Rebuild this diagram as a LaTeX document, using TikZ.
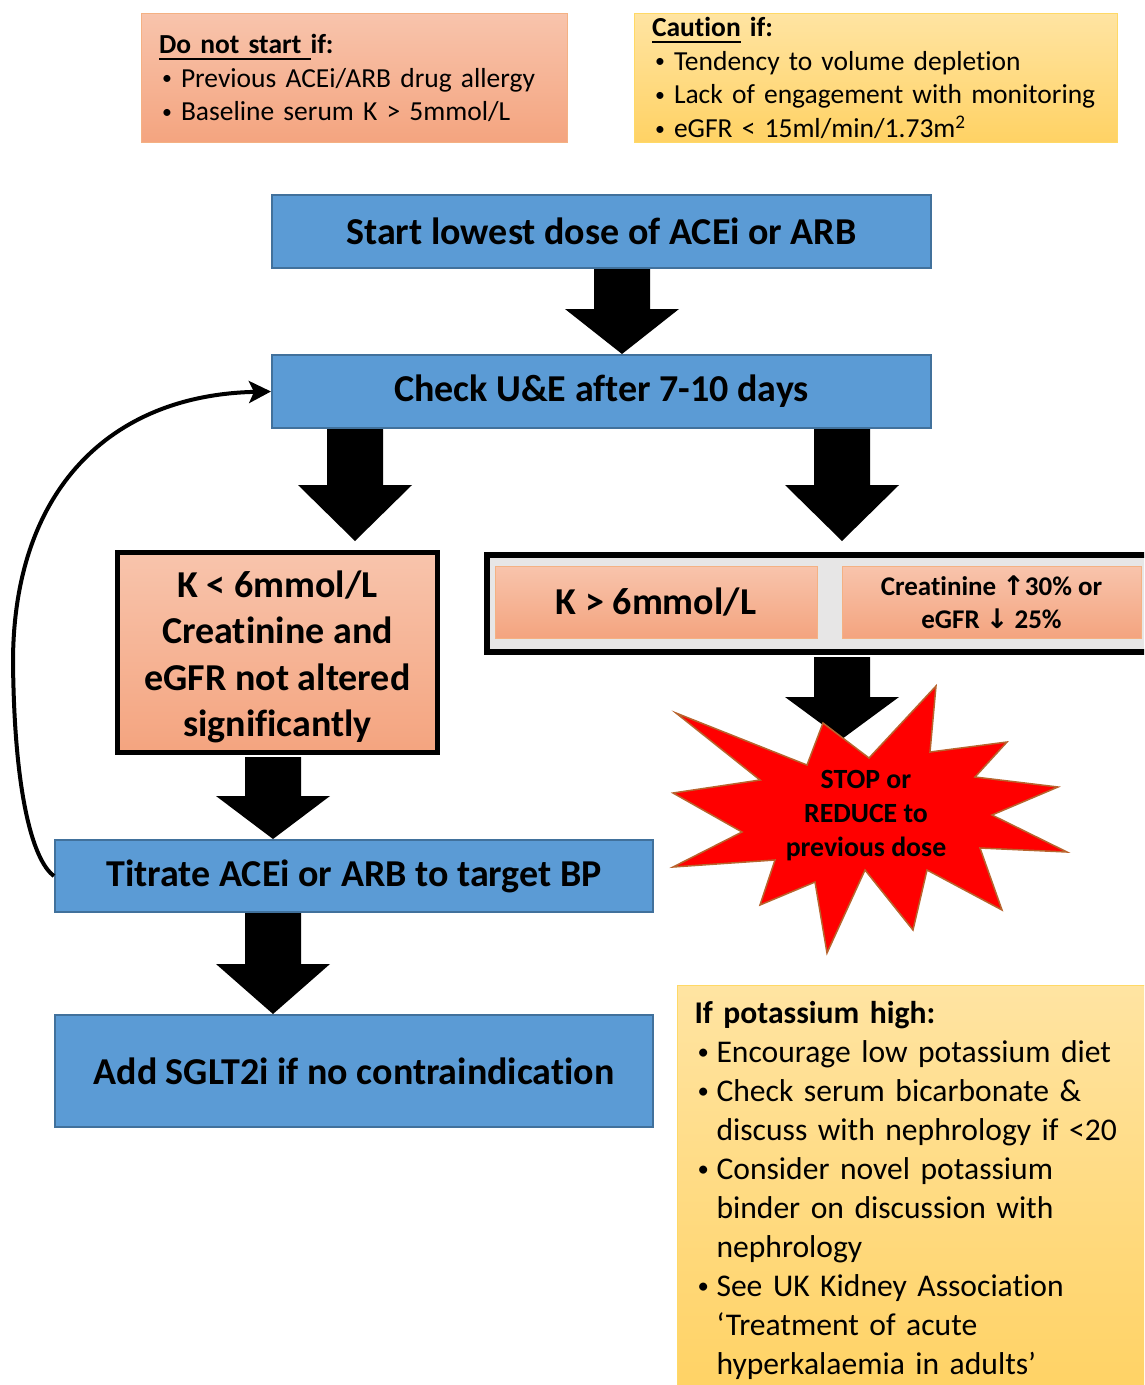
\documentclass[tikz,border=0pt]{standalone}
\usepackage{fontspec}
\setmainfont{Carlito}[Ligatures=NoCommon]
\newfontfamily\symfont{DejaVu Sans}
\usepackage{graphicx}
\usepackage{tikz}
\usetikzlibrary{arrows.meta,calc,positioning}
\definecolor{boxblue}{HTML}{5B9BD5}
\definecolor{boxblueline}{HTML}{41719C}
\definecolor{salmontop}{HTML}{F8C4AC}
\definecolor{salmonbot}{HTML}{F4A47F}
\definecolor{salmonline}{HTML}{F4B183}
\definecolor{goldtop}{HTML}{FFE4A2}
\definecolor{goldbot}{HTML}{FFD264}
\definecolor{goldline}{HTML}{FFD966}
\definecolor{panelgrey}{HTML}{E7E6E6}
\definecolor{starred}{HTML}{FF0000}
\definecolor{starline}{HTML}{B8642E}
\newcommand{\bul}{\makebox[22pt][l]{\hspace{3pt}\raisebox{0.1em}{\scalebox{0.72}{•}}}}
\newcommand{\ind}{\hspace*{22pt}}
\newcommand{\ulined}[1]{\leavevmode\setbox0\hbox{#1}\rlap{\rule[-6.5pt]{\wd0}{2pt}}\box0\relax}
% block arrow: [head length]{from}{tip}
\newcommand{\fatarrow}[3][50]{%
  \fill let \p1=(#2), \p2=(#3) in
    (\x1-28pt,\y1) -- (\x1+28pt,\y1) -- (\x1+28pt,\y2+#1pt) -- (\x1+57pt,\y2+#1pt)
    -- (\x1,\y2) -- (\x1-57pt,\y2+#1pt) -- (\x1-28pt,\y2+#1pt) -- cycle;}

\begin{document}
\begin{tikzpicture}[x=1pt,y=-1pt,
  flowbox/.style={draw=boxblueline,line width=2pt,fill=boxblue,inner sep=0pt,
    font=\fontsize{38}{46}\selectfont\bfseries},
  peachbox/.style={draw=salmonline,line width=1pt,top color=salmontop,bottom color=salmonbot,inner sep=0pt},
  goldbox/.style={draw=goldline,line width=1pt,top color=goldtop,bottom color=goldbot},
  notebox/.style={align=left,inner xsep=18pt,inner ysep=0pt,font=\fontsize{27.5}{33.8}\selectfont}]
  \clip (0,0) rectangle (1144,1385);

  % contraindications
  \node[peachbox,notebox,text width=390pt,minimum width=426pt,minimum height=129pt] (nostart) at (354,78)
    {\ulined{\bfseries Do not start\ }\textbf{if:}\\
     \bul Previous ACEi/ARB drug allergy\\
     \bul Baseline serum K > 5mmol/L};
  \node[goldbox,notebox,text width=447pt,minimum width=483pt,minimum height=129pt] (caution) at (875.5,78)
    {\ulined{\bfseries Caution} \textbf{if:}\\
     \bul Tendency to volume depletion\\
     \bul Lack of engagement with monitoring\\
     \bul eGFR < 15ml/min/1.73m\textsuperscript{2}};

  % main flow
  \node[flowbox,minimum width=659pt,minimum height=73pt] (start) at (601.5,231.5) {Start lowest dose of ACEi or ARB};
  \node[flowbox,minimum width=659pt,minimum height=73pt] (check) at (601.5,391.5) {Check U\&E after 7-10 days};
  \node[draw,line width=5pt,top color=salmontop,bottom color=salmonbot,minimum width=320pt,minimum height=200pt,
    inner sep=0pt,align=center,font=\fontsize{38}{46.5}\selectfont\bfseries] (kok) at (277.5,652.5)
    {\rule{0pt}{35pt}K < 6mmol/L\\Creatinine and\\eGFR not altered\\significantly};
  \node[flowbox,minimum width=598pt,minimum height=72pt] (titrate) at (354,876) {Titrate ACEi or ARB to target BP};
  \node[flowbox,minimum width=598pt,minimum height=112pt] (sglt) at (354,1071) {Add SGLT2i if no contraindication};

  % stop branch
  \node[draw,line width=6pt,fill=panelgrey,minimum width=663pt,minimum height=97pt] (group) at (818.5,603.5) {};
  \node[peachbox,minimum width=322pt,minimum height=72pt,font=\fontsize{38}{46}\selectfont\bfseries] (khigh) at (656,602) {K > 6mmol/L};
  \node[peachbox,minimum width=299pt,minimum height=72pt,align=center,font=\fontsize{27}{33}\selectfont\bfseries] (creat) at (991.5,602)
    {Creatinine {\symfont ↑}30\% or\\eGFR {\symfont ↓} 25\%};

  \fatarrow[45]{$(start.south)+(20.5,0)$}{$(check.north)+(20.5,0)$}
  \fatarrow[56]{$(check.south)+(-246.5,0)$}{$(check.south)+(-246.5,112)$}
  \fatarrow[56]{$(check.south)+(240.5,0)$}{$(check.south)+(240.5,112)$}
  \fatarrow[43]{$(kok.south)+(-4.5,2)$}{$(titrate.north)+(-81,0)$}
  \fatarrow[50]{$(titrate.south)+(-81,0)$}{$(sglt.north)+(-81,0)$}
  \fatarrow[42]{$(group.south)+(23.5,2)$}{$(group.south)+(23.5,84)$}

  \filldraw[draw=starline,fill=starred,line width=1.5pt]
    (676,713) -- (807,765) -- (823,723) -- (869,758) -- (936,686) -- (930,752)
    -- (1007,742) -- (975,777) -- (1058,787) -- (992,815) -- (1067,852) -- (980,848)
    -- (1002,910) -- (927,870) -- (913,930) -- (865,870) -- (827,953) -- (815,882)
    -- (760,905) -- (775,860) -- (673,867) -- (742,832) -- (673,793) -- (760,780) -- cycle;
  \node[align=center,font=\fontsize{27.8}{34}\selectfont\bfseries] (stop) at (866,816) {STOP or\\REDUCE to\\previous dose};

  % loop back
  \draw[line width=4pt,-{Stealth[length=22pt,width=22pt,inset=5pt]}] (titrate.west)
    .. controls (32,860) and (14,790) .. (13,660)
    .. controls (14,490) and (110,395) .. (check.west);

  % potassium advice
  \node[goldbox,notebox,anchor=north west,text width=446pt,minimum width=480pt,minimum height=410pt,
    inner xsep=17pt,font=\fontsize{31.6}{39}\selectfont] (potassium) at (677,985)
    {\textbf{If potassium high:}\\
     \bul Encourage low potassium diet\\
     \bul Check serum bicarbonate \&\\
     \ind discuss with nephrology if <20\\
     \bul Consider novel potassium\\
     \ind binder on discussion with\\
     \ind nephrology\\
     \bul See UK Kidney Association\\
     \ind ‘Treatment of acute\\
     \ind hyperkalaemia in adults’};
\end{tikzpicture}
\end{document}
